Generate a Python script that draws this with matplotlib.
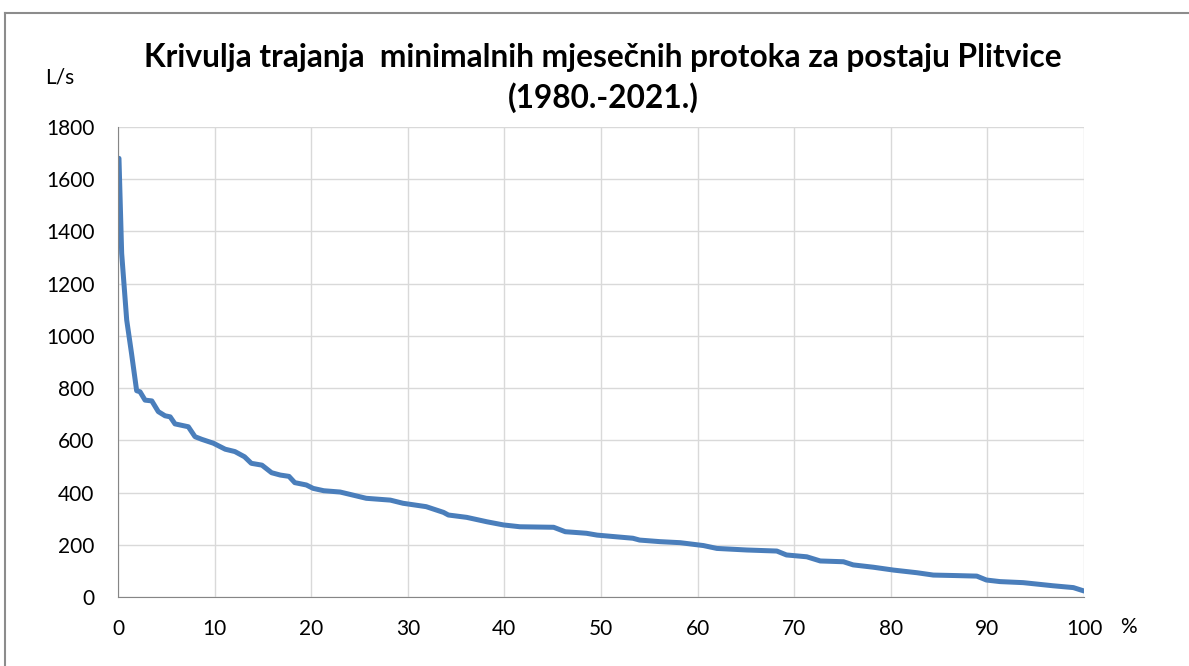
# Krivulja trajanja minimalnih mjesecnih protoka - Plitvice
import matplotlib.pyplot as plt
from matplotlib.lines import Line2D

plt.rcParams['font.family'] = ['Lato', 'DejaVu Sans']

# duration (%) and discharge (L/s)
trajanje = [0.1, 0.38, 0.9, 1.4, 1.93, 2.28, 2.8, 3.5, 4.17, 4.87, 5.4, 5.9,
            7.28, 7.97, 8.66, 9.87, 11.1, 12.1, 13.1, 13.8, 14.9, 15.9, 16.8,
            17.7, 18.3, 19.5, 20.2, 21.3, 23.0, 25.7, 28.2, 29.5, 31.9, 33.7,
            34.2, 36.1, 38.2, 39.9, 41.6, 45.1, 46.3, 47.8, 48.5, 49.6, 53.3,
            54.0, 56.1, 58.2, 60.6, 62.0, 65.1, 68.2, 69.2, 71.3, 72.7, 75.1,
            76.1, 78.2, 80.3, 82.7, 84.4, 86.8, 88.9, 89.9, 91.3, 93.7, 96.8,
            98.9, 100.0]
protok = [1680, 1316, 1061, 933, 790, 786, 754, 751, 710, 694, 690, 663,
          652, 614, 604, 589, 566, 557, 537, 512, 505, 476, 467,
          462, 438, 429, 416, 407, 402, 378, 371, 359, 346, 324,
          314, 305, 288, 276, 269, 267, 250, 246, 244, 237, 225,
          218, 212, 208, 197, 186, 180, 176, 161, 154, 138, 135,
          123, 114, 103, 93, 84, 82, 80, 65, 59, 55, 43,
          36, 23]

x_ticks = list(range(0, 101, 10))
y_ticks = list(range(0, 1801, 200))

fig = plt.figure(figsize=(11.89, 6.66), dpi=100)
ax = fig.add_axes([118 / 1189, 1 - 597 / 666, (1084 - 118) / 1189, (597 - 127) / 666])

ax.plot(trajanje, protok, color='#4A7EBB', lw=3.6, solid_joinstyle='round',
        solid_capstyle='round')

ax.set_xlim(0, 100)
ax.set_ylim(0, 1800)
ax.set_xticks(x_ticks)
ax.set_yticks(y_ticks)
ax.grid(True, color='#D9D9D9', lw=1)
ax.set_axisbelow(True)
ax.tick_params(length=0, labelsize=15, colors='black')
ax.tick_params(axis='y', pad=17)
ax.tick_params(axis='x', pad=16)
for s in ['top', 'right']:
    ax.spines[s].set_visible(False)
for s in ['left', 'bottom']:
    ax.spines[s].set_color('#868686')

fig.text(603 / 1189, 1 - 57 / 666, 'Krivulja trajanja  minimalnih mjesečnih protoka za postaju Plitvice',
         ha='center', va='center', fontsize=22.8, fontweight='bold')
fig.text(603 / 1189, 1 - 98 / 666, '(1980.-2021.)', ha='center', va='center',
         fontsize=22.8, fontweight='bold')
fig.text(60 / 1189, 1 - 77 / 666, 'L/s', ha='center', va='center', fontsize=15)
fig.text(1128 / 1189, 1 - 627 / 666, '%', ha='center', va='center', fontsize=15)

# outer chart frame
fig.add_artist(Line2D([5 / 1189, 5 / 1189], [0, 1 - 13 / 666], color='#8C8C8C', lw=1.5,
                      transform=fig.transFigure))
fig.add_artist(Line2D([5 / 1189, 1], [1 - 13 / 666, 1 - 13 / 666], color='#8C8C8C', lw=1.5,
                      transform=fig.transFigure))

plt.savefig('out.png', dpi=100)
